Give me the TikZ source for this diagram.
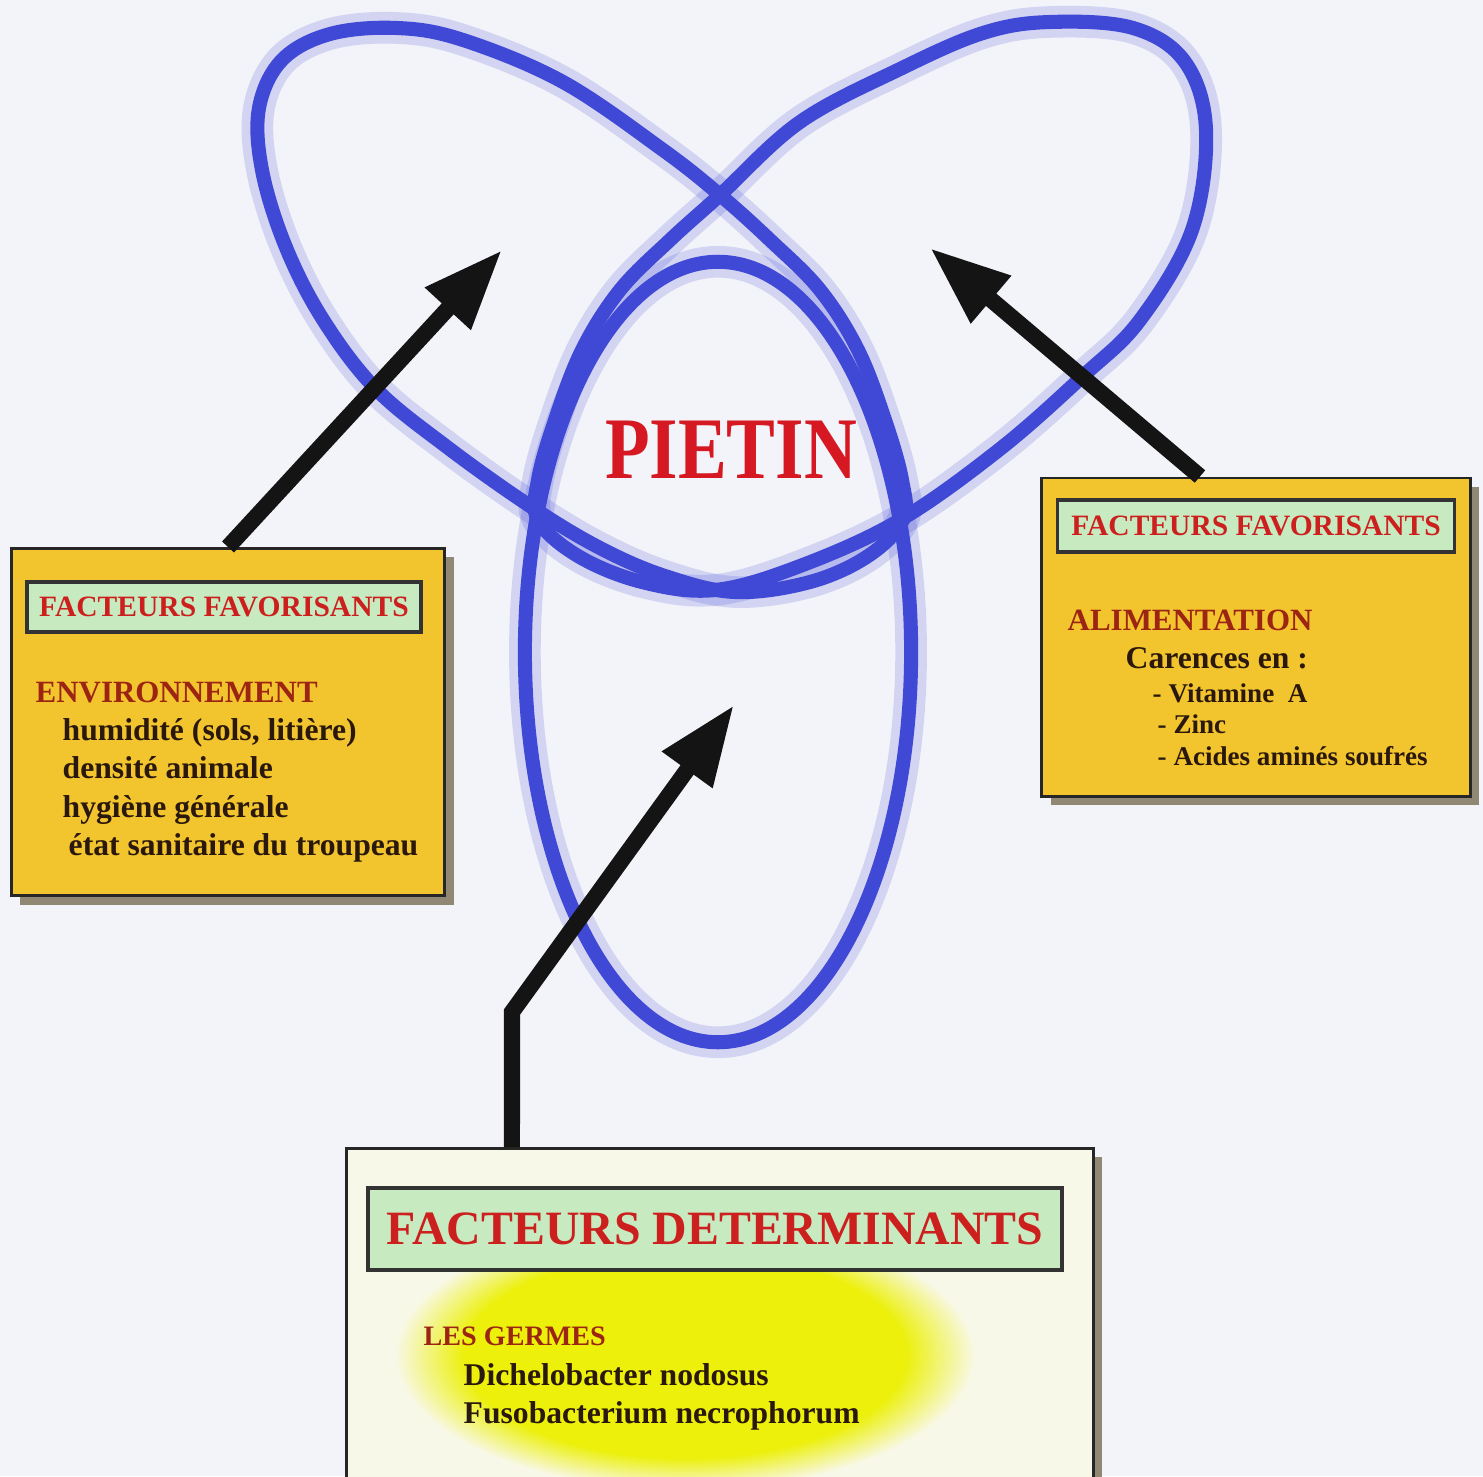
\documentclass[tikz,border=0pt]{standalone}
\usepackage{fontspec}
\usepackage{graphicx}
\setmainfont{Liberation Serif}
\usetikzlibrary{arrows.meta,shadows,positioning}

\definecolor{paper}{RGB}{243,244,249}
\definecolor{loopblue}{RGB}{64,72,214}
\definecolor{boxyellow}{RGB}{242,196,46}
\definecolor{titlegreen}{RGB}{200,234,192}
\definecolor{titlered}{RGB}{204,32,30}
\definecolor{pietinred}{RGB}{214,24,34}
\definecolor{headred}{RGB}{156,36,18}
\definecolor{bodybrown}{RGB}{42,24,12}
\definecolor{boxcream}{RGB}{248,248,232}
\definecolor{glowyellow}{RGB}{236,240,10}
\definecolor{shadowgrey}{RGB}{120,108,84}

\pgfdeclareradialshading{germglow}{\pgfpoint{0cm}{0cm}}{color(0bp)=(glowyellow); color(19bp)=(glowyellow); color(25bp)=(boxcream); color(50bp)=(boxcream)}

\begin{document}
\begin{tikzpicture}[x=0.01cm,y=-0.01cm,
  loop line/.style={draw=loopblue,line width=4pt},
  loop halo/.style={draw=loopblue,line width=9pt,opacity=0.18},
  big arrow/.style={draw=black!92,line width=4.6pt,-{Triangle[length=0.8cm,width=0.58cm]}},
  fav box/.style={rectangle,draw=black!85,line width=0.8pt,fill=boxyellow,
    drop shadow={shadow xshift=0.09cm,shadow yshift=-0.09cm,fill=shadowgrey,opacity=0.8}},
  germ box/.style={fav box,fill=boxcream},
  title box/.style={rectangle,draw=black!80,line width=1pt,fill=titlegreen,inner sep=0pt,
    text=titlered,font=\bfseries\fontsize{8.4}{10}\selectfont},
  big title/.style={font=\bfseries\fontsize{13.6}{16}\selectfont},
  head text/.style={anchor=base west,inner sep=0pt,text=headred,font=\bfseries\fontsize{8.8}{10}\selectfont},
  body text/.style={anchor=base west,inner sep=0pt,text=bodybrown,font=\bfseries\fontsize{9}{11}\selectfont},
  small text/.style={body text,font=\bfseries\fontsize{7.7}{9}\selectfont}]

  \fill[paper] (0,0) rectangle (1483,1476);
  \useasboundingbox (0,0) rectangle (1483,1476);

  % the three loops
  \foreach \look in {loop halo,loop line} {
    \draw[\look] plot[smooth cycle,tension=0.6] coordinates {
      (720,195) (663,150) (563,82) (463,40) (397,28) (330,34) (282,60) (259,108)
      (262,170) (285,245) (322,318) (375,388) (447,447) (530,506) (600,548)
      (665,576) (735,592) (810,582) (868,556) (903,520) (902,480) (885,420)
      (858,350) (820,290) (770,240)};
    \draw[\look] plot[smooth cycle,tension=0.6] coordinates {
      (720,195) (800,122) (900,69) (983,33) (1050,22) (1133,28) (1185,62) (1206,130)
      (1192,230) (1140,320) (1083,376) (1000,449) (900,520) (800,566) (715,590)
      (642,582) (578,556) (538,520) (538,480) (555,420) (582,350) (620,290)
      (670,240)};
    \draw[\look] (718,652) ellipse [x radius=1.93cm,y radius=3.9cm];
  }

  \node[text=pietinred,font=\bfseries\fontsize{20.8}{24}\selectfont] (pietin) at (731,450)
    {\scalebox{1}[1.2]{PIETIN}};

  % left box
  \node[fav box,minimum width=4.33cm,minimum height=3.47cm] (envbox) at (228,722) {};
  \node[title box,minimum width=3.94cm,minimum height=0.5cm] (envtitle) at (224,607) {FACTEURS FAVORISANTS};
  \node[head text] (envhead) at (35,702) {ENVIRONNEMENT};
  \node[body text] (envhum) at (62,740) {humidité (sols, litière)};
  \node[body text] (envdens) at (62,778) {densité animale};
  \node[body text] (envhyg) at (62,817) {hygiène générale};
  \node[body text] (envetat) at (68,855) {état sanitaire du troupeau};

  % right box
  \node[fav box,minimum width=4.28cm,minimum height=3.18cm] (alibox) at (1256,637) {};
  \node[title box,minimum width=3.97cm,minimum height=0.52cm] (alititle) at (1256,526) {FACTEURS FAVORISANTS};
  \node[head text] (alihead) at (1067,630) {ALIMENTATION};
  \node[body text] (alicar) at (1125,668) {Carences en :};
  \node[small text] (alivit) at (1152,702) {- Vitamine~ A};
  \node[small text] (alizinc) at (1157,733) {- Zinc};
  \node[small text] (aliacid) at (1157,765) {- Acides aminés soufrés};

  % bottom box
  \node[germ box,minimum width=7.46cm,minimum height=3.6cm,anchor=north] (germbox) at (720,1147) {};
  \begin{scope}
    \clip ([xshift=0.05cm,yshift=0.05cm]germbox.south west) rectangle ([xshift=-0.05cm,yshift=-0.05cm]germbox.north east);
    \shade[shading=germglow] (685,1355) ellipse [x radius=2.9cm,y radius=1.35cm];
  \end{scope}
  \node[title box,big title,minimum width=6.94cm,minimum height=0.82cm] (germtitle) at (715,1229) {FACTEURS DETERMINANTS};
  \node[head text,font=\bfseries\fontsize{8}{10}\selectfont] (germhead) at (423,1345) {LES GERMES};
  \node[body text] (germdich) at (463,1385) {Dichelobacter nodosus};
  \node[body text] (germfuso) at (463,1423) {Fusobacterium necrophorum};

  % arrows
  \coordinate (envtip) at (502,250);
  \coordinate (alitip) at (930,248);
  \coordinate (germbend) at (512,1012);
  \coordinate (germtip) at (734,705);
  \draw[big arrow] (envbox.north) -- (envtip);
  \draw[big arrow] ([xshift=-0.56cm]alibox.north) -- (alitip);
  \draw[big arrow] ([xshift=-2.08cm]germbox.north) -- (germbend) -- (germtip);

\end{tikzpicture}
\end{document}
